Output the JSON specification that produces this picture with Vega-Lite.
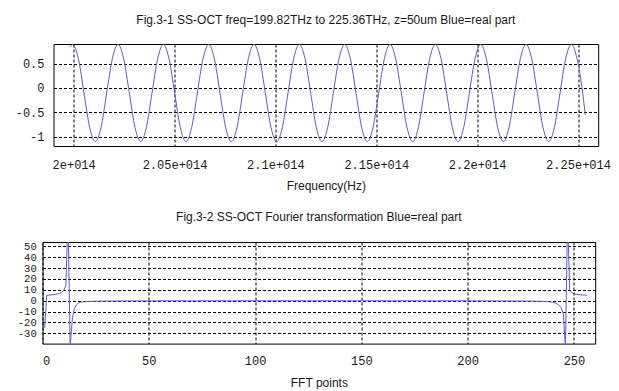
{
  "$schema": "https://vega.github.io/schema/vega-lite/v6.json",
  "background": "white",
  "padding": {"left": 14.5, "top": 13, "right": 2, "bottom": 0},
  "config": {
    "view": {"stroke": "black", "strokeWidth": 1},
    "axis": {
      "domain": false, "ticks": false, "grid": true, "labelOverlap": false,
      "gridColor": "black", "gridDash": [3, 2], "gridOpacity": 1, "gridWidth": 1,
      "labelFont": "Liberation Mono", "labelFontSize": 12, "labelColor": "#1a1a1a",
      "titleFont": "Liberation Sans", "titleFontSize": 12, "titleFontWeight": "normal", "titleColor": "#1a1a1a"
    },
    "title": {"font": "Liberation Sans", "fontSize": 12, "fontWeight": "normal", "color": "#1a1a1a"}
  },
  "datasets": {
    "wave": [
      {"f": 199.82e12, "re": 0.84},
      {"f": 199.950e12, "re": 0.89}, {"f": 200.231e12, "re": 0.6}, {"f": 200.512e12, "re": -0.105}, {"f": 200.793e12, "re": -0.81},
      {"f": 201.074e12, "re": -1.1}, {"f": 201.355e12, "re": -0.81}, {"f": 201.635e12, "re": -0.105}, {"f": 201.916e12, "re": 0.6},
      {"f": 202.197e12, "re": 0.89}, {"f": 202.478e12, "re": 0.6}, {"f": 202.759e12, "re": -0.105}, {"f": 203.040e12, "re": -0.81},
      {"f": 203.321e12, "re": -1.1}, {"f": 203.602e12, "re": -0.81}, {"f": 203.883e12, "re": -0.105}, {"f": 204.164e12, "re": 0.6},
      {"f": 204.444e12, "re": 0.89}, {"f": 204.725e12, "re": 0.6}, {"f": 205.006e12, "re": -0.105}, {"f": 205.287e12, "re": -0.81},
      {"f": 205.568e12, "re": -1.1}, {"f": 205.849e12, "re": -0.81}, {"f": 206.130e12, "re": -0.105}, {"f": 206.411e12, "re": 0.6},
      {"f": 206.692e12, "re": 0.89}, {"f": 206.973e12, "re": 0.6}, {"f": 207.253e12, "re": -0.105}, {"f": 207.534e12, "re": -0.81},
      {"f": 207.815e12, "re": -1.1}, {"f": 208.096e12, "re": -0.81}, {"f": 208.377e12, "re": -0.105}, {"f": 208.658e12, "re": 0.6},
      {"f": 208.939e12, "re": 0.89}, {"f": 209.220e12, "re": 0.6}, {"f": 209.501e12, "re": -0.105}, {"f": 209.782e12, "re": -0.81},
      {"f": 210.062e12, "re": -1.1}, {"f": 210.343e12, "re": -0.81}, {"f": 210.624e12, "re": -0.105}, {"f": 210.905e12, "re": 0.6},
      {"f": 211.186e12, "re": 0.89}, {"f": 211.467e12, "re": 0.6}, {"f": 211.748e12, "re": -0.105}, {"f": 212.029e12, "re": -0.81},
      {"f": 212.310e12, "re": -1.1}, {"f": 212.591e12, "re": -0.81}, {"f": 212.871e12, "re": -0.105}, {"f": 213.152e12, "re": 0.6},
      {"f": 213.433e12, "re": 0.89}, {"f": 213.714e12, "re": 0.6}, {"f": 213.995e12, "re": -0.105}, {"f": 214.276e12, "re": -0.81},
      {"f": 214.557e12, "re": -1.1}, {"f": 214.838e12, "re": -0.81}, {"f": 215.119e12, "re": -0.105}, {"f": 215.400e12, "re": 0.6},
      {"f": 215.680e12, "re": 0.89}, {"f": 215.961e12, "re": 0.6}, {"f": 216.242e12, "re": -0.105}, {"f": 216.523e12, "re": -0.81},
      {"f": 216.804e12, "re": -1.1}, {"f": 217.085e12, "re": -0.81}, {"f": 217.366e12, "re": -0.105}, {"f": 217.647e12, "re": 0.6},
      {"f": 217.928e12, "re": 0.89}, {"f": 218.209e12, "re": 0.6}, {"f": 218.489e12, "re": -0.105}, {"f": 218.770e12, "re": -0.81},
      {"f": 219.051e12, "re": -1.1}, {"f": 219.332e12, "re": -0.81}, {"f": 219.613e12, "re": -0.105}, {"f": 219.894e12, "re": 0.6},
      {"f": 220.175e12, "re": 0.89}, {"f": 220.456e12, "re": 0.6}, {"f": 220.737e12, "re": -0.105}, {"f": 221.018e12, "re": -0.81},
      {"f": 221.298e12, "re": -1.1}, {"f": 221.579e12, "re": -0.81}, {"f": 221.860e12, "re": -0.105}, {"f": 222.141e12, "re": 0.6},
      {"f": 222.422e12, "re": 0.89}, {"f": 222.703e12, "re": 0.6}, {"f": 222.984e12, "re": -0.105}, {"f": 223.265e12, "re": -0.81},
      {"f": 223.546e12, "re": -1.1}, {"f": 223.827e12, "re": -0.81}, {"f": 224.107e12, "re": -0.105}, {"f": 224.388e12, "re": 0.6},
      {"f": 224.669e12, "re": 0.89}, {"f": 224.950e12, "re": 0.6}, {"f": 225.231e12, "re": -0.105},
      {"f": 225.36e12, "re": -0.55}
    ],
    "fft": [
      {"point": 1, "re": -25}, {"point": 2, "re": 5.0}, {"point": 3, "re": 5.1}, {"point": 4, "re": 5.3},
      {"point": 5, "re": 5.5}, {"point": 6, "re": 5.8}, {"point": 7, "re": 6.2}, {"point": 8, "re": 6.8},
      {"point": 9, "re": 7.8}, {"point": 10, "re": 9.5}, {"point": 11, "re": 14}, {"point": 12, "re": 78},
      {"point": 13, "re": -44}, {"point": 14, "re": -17}, {"point": 15, "re": -7}, {"point": 16, "re": -3.8},
      {"point": 17, "re": -2.0}, {"point": 18, "re": -1.4}, {"point": 19, "re": -1.1}, {"point": 20, "re": -0.9},
      {"point": 22, "re": -0.7}, {"point": 25, "re": -0.5}, {"point": 30, "re": -0.35}, {"point": 40, "re": -0.2},
      {"point": 60, "re": -0.15}, {"point": 100, "re": -0.1}, {"point": 150, "re": -0.1}, {"point": 200, "re": -0.15},
      {"point": 220, "re": -0.25}, {"point": 230, "re": -0.4}, {"point": 235, "re": -0.6}, {"point": 238, "re": -0.9},
      {"point": 240, "re": -1.5}, {"point": 241, "re": -2.0}, {"point": 242, "re": -2.8}, {"point": 243, "re": -4.2},
      {"point": 244, "re": -6.5}, {"point": 245, "re": -12}, {"point": 246, "re": -44}, {"point": 247, "re": 78},
      {"point": 248, "re": 10}, {"point": 249, "re": 7.3}, {"point": 250, "re": 6.5}, {"point": 251, "re": 5.9},
      {"point": 252, "re": 5.6}, {"point": 253, "re": 5.4}, {"point": 254, "re": 5.2}, {"point": 255, "re": 5.1},
      {"point": 256, "re": 5.0}
    ]
  },
  "spacing": 18,
  "vconcat": [
    {
      "spacing": -32,
      "hconcat": [
        {
          "width": 1, "height": 1,
          "view": {"stroke": null},
          "data": {"values": [{"k": 0}]},
          "mark": {"type": "point", "opacity": 0},
          "encoding": {}
        },
        {
          "title": {"text": "Fig.3-1 SS-OCT freq=199.82THz to 225.36THz, z=50um Blue=real part", "anchor": "middle", "baseline": "alphabetic", "offset": 8},
          "width": 544.7,
          "height": 102,
          "data": {"name": "wave"},
          "mark": {"type": "line", "color": "#5b5bd6", "strokeWidth": 1, "interpolate": "monotone", "clip": true},
          "encoding": {
            "x": {
              "field": "f", "type": "quantitative",
              "scale": {"domain": [1.99e14, 2.26e14], "nice": false, "zero": false},
              "axis": {
                "values": [2e14, 2.05e14, 2.1e14, 2.15e14, 2.2e14, 2.25e14],
                "labelExpr": "format(datum.value / 1e14, '.2~f') + 'e+014'",
                "labelPadding": 13,
                "title": "Frequency(Hz)", "titleY": 43, "titleBaseline": "alphabetic"
              }
            },
            "y": {
              "field": "re", "type": "quantitative",
              "scale": {"domain": [-1.19, 0.9], "nice": false, "zero": false},
              "axis": {
                "values": [-1, -0.5, 0, 0.5],
                "labelExpr": "(datum.value < 0 ? '-' : '') + format(abs(datum.value), '~g')",
                "labelPadding": 9.5,
                "title": null
              }
            }
          }
        }
      ]
    },
    {
      "title": {"text": "Fig.3-2 SS-OCT Fourier transformation Blue=real part", "anchor": "middle", "baseline": "alphabetic", "offset": 8},
      "width": 552.7,
      "height": 101.6,
      "data": {"name": "fft"},
      "mark": {"type": "line", "color": "#5b5bd6", "strokeWidth": 1, "clip": true},
      "encoding": {
        "x": {
          "field": "point", "type": "quantitative",
          "scale": {"domain": [0, 260], "nice": false, "zero": false},
          "axis": {
            "values": [0, 50, 100, 150, 200, 250],
            "labelPadding": 12,
            "title": "FFT points", "titleY": 42.5, "titleBaseline": "alphabetic"
          }
        },
        "y": {
          "field": "re", "type": "quantitative",
          "scale": {"domain": [-39.5, 54], "nice": false, "zero": false},
          "axis": {
            "values": [-30, -20, -10, 0, 10, 20, 30, 40, 50],
            "labelExpr": "(datum.value < 0 ? '-' : '') + format(abs(datum.value), '~g')",
            "labelFontSize": 10.5,
            "labelPadding": 6.3,
            "title": null
          }
        }
      }
    }
  ]
}
